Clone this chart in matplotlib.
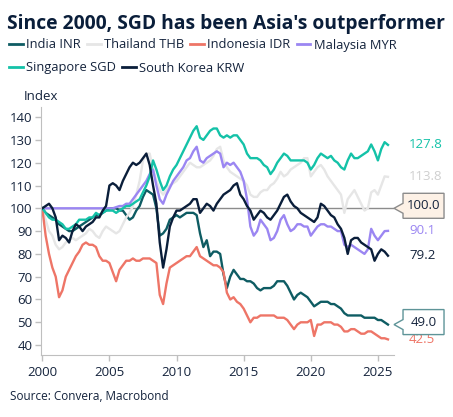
import numpy as np
import matplotlib
matplotlib.use("Agg")
import matplotlib.pyplot as plt
import matplotlib.transforms as mtransforms
from matplotlib.patches import Polygon
from matplotlib.lines import Line2D

plt.rcParams['font.family'] = ['Open Sans', 'DejaVu Sans']

# quarterly index, 2000 = 100
years = np.arange(2000, 2026, 0.25)

inr = [100, 98, 97, 96, 95, 93, 92, 91, 90, 90, 91, 92, 93, 94, 95, 96,
       97, 97, 98, 99, 100, 100, 100, 99, 99, 97, 95, 96, 99, 101, 105, 108,
       107, 106, 100, 88, 89, 91, 95, 96, 97, 96, 97, 98, 98, 98, 97, 89,
       83, 86, 79, 81, 81, 80, 71, 65, 70, 73, 71, 69, 69, 68, 68, 67,
       65, 64, 65, 65, 65, 66, 68, 68, 68, 66, 63, 60, 62, 63, 62, 61,
       59, 57, 58, 59, 59, 59, 58, 58, 57, 56, 54, 53, 53, 53, 53, 53,
       52, 52, 52, 52, 51, 51, 50, 49.0]
thb = [100, 95, 90, 88, 84, 82, 83, 85, 86, 87, 86, 87, 88, 89, 91, 90,
       88, 87, 90, 92, 91, 90, 89, 90, 93, 96, 98, 101, 106, 112, 121, 124,
       124, 117, 112, 108, 106, 108, 110, 111, 112, 114, 116, 118, 120, 119, 118, 118,
       119, 120, 121, 123, 126, 127, 121, 118, 116, 115, 114, 113, 112, 110, 106, 105,
       105, 107, 108, 108, 110, 111, 113, 116, 114, 115, 117, 118, 119, 120, 122, 122,
       114, 116, 118, 119, 117, 114, 112, 110, 108, 106, 98, 104, 106, 108, 105, 102,
       99, 100, 107, 108, 106, 110, 114, 113.8]
idr = [100, 88, 80, 74, 70, 61, 64, 70, 73, 76, 79, 81, 84, 85, 84, 84,
       83, 79, 77, 77, 76, 72, 68, 73, 75, 77, 77, 78, 77, 77, 78, 78,
       78, 77, 76, 62, 58, 67, 74, 75, 76, 77, 78, 79, 79, 81, 83, 79,
       78, 77, 76, 75, 75, 74, 72, 63, 60, 61, 59, 58, 56, 53, 50, 52,
       52, 53, 53, 53, 53, 53, 52, 52, 52, 51, 49, 47, 49, 50, 50, 50,
       51, 44, 49, 49, 50, 50, 50, 49, 49, 48, 46, 46, 47, 47, 46, 45,
       45, 46, 46, 45, 44, 43, 43, 42.5]
myr = [100, 100, 100, 100, 100, 100, 100, 100, 100, 100, 100, 100, 100, 100, 100, 100,
       100, 100, 100, 100, 100, 100, 100.5, 101, 101, 102, 102, 104, 106, 108, 110, 112,
       115, 117, 110, 104, 102, 106, 109, 112, 114, 116, 118, 121, 122, 125, 127, 121,
       120, 122, 123, 124, 125, 124, 118, 120, 119, 120, 118, 116, 112, 104, 92, 88,
       90, 95, 93, 91, 86, 87, 90, 95, 97, 93, 90, 91, 93, 93, 92, 92,
       88, 90, 92, 93, 93, 92, 92, 91, 90, 90, 84, 83, 84, 83, 82, 81,
       80, 82, 91, 88, 86, 88, 90, 90.1]
sgd = [100, 98, 96, 95, 95, 94, 93, 91, 91, 92, 93, 95, 95, 95, 96, 96,
       98, 97, 98, 99, 99, 99, 98, 99, 100, 101, 101, 102, 103, 104, 107, 110,
       114, 121, 117, 112, 108, 110, 114, 117, 119, 122, 125, 128, 131, 134, 136, 131,
       130, 132, 134, 135, 135, 132, 131, 132, 131, 132, 132, 130, 128, 124, 122, 122,
       122, 121, 119, 118, 115, 117, 120, 122, 124, 123, 121, 121, 121, 121, 121, 120,
       117, 119, 122, 124, 123, 122, 123, 121, 120, 118, 117, 121, 124, 122, 122, 123,
       124, 125, 128, 125, 121, 126, 129, 127.8]
krw = [100, 101, 102, 100, 96, 86, 88, 87, 85, 90, 93, 92, 90, 92, 93, 94,
       96, 96, 99, 101, 110, 111, 110, 108, 112, 115, 118, 120, 119, 120, 122, 124,
       119, 110, 102, 85, 74, 82, 92, 96, 99, 99, 100, 101, 102, 104, 104, 98,
       100, 102, 101, 99, 102, 104, 106, 107, 108, 110, 111, 106, 104, 101, 99, 95,
       97, 99, 98, 96, 95, 97, 99, 102, 105, 106, 103, 101, 100, 98, 97, 96,
       95, 94, 96, 102, 101, 99, 97, 96, 93, 91, 87, 80, 86, 87, 87, 85,
       84, 83, 82, 77, 80, 82, 81, 79.2]

names = ["India INR", "Thailand THB", "Indonesia IDR", "Malaysia MYR",
         "Singapore SGD", "South Korea KRW"]
series = [inr, thb, idr, myr, sgd, krw]
colors = ["#0E5C63", "#E6E6E6", "#EE7567", "#9B86F2", "#14C2A8", "#0A1E3A"]
label_colors = ["#14233C", "#CFCFCF", "#EE7567", "#9B86F2", "#14C2A8", "#14233C"]

navy = "#14233C"
grey = "#BFBFBF"

fig = plt.figure(figsize=(4.53, 4.17), dpi=100)
ax = fig.add_axes([0.0898, 0.1487, 0.780, 0.5947])

ax.axhline(100, color="#8C8C8C", lw=1.0, zorder=1)
for vals, c in zip(series, colors):
    ax.plot(years, vals, color=c, lw=1.7, zorder=2)

ax.set_xlim(1999.88, 2026.2)
ax.set_ylim(35.66, 144.43)
ax.set_yticks(range(40, 141, 10))
ax.set_xticks(range(2000, 2026, 5))

for side in ["top", "right"]:
    ax.spines[side].set_visible(False)
for side in ["left", "bottom"]:
    ax.spines[side].set_color(grey)
ax.tick_params(axis="both", colors=grey, labelcolor=navy, labelsize=9.5,
               length=4, width=1)
ax.tick_params(axis="y", pad=2)
ax.tick_params(axis="x", pad=4)

# right-hand end labels
lab_trans = mtransforms.blended_transform_factory(fig.transFigure, ax.transData)
for i in [1, 2, 3, 4, 5]:
    ax.text(409 / 453, series[i][-1], f"{series[i][-1]:.1f}", transform=lab_trans,
            ha="left", va="center", color=label_colors[i], fontsize=9.5)

# callout boxes at the right edge
def callout(value, text, face, edge):
    anchor = mtransforms.blended_transform_factory(ax.transAxes, ax.transData)
    trans = (mtransforms.Affine2D().scale(fig.dpi / 72.0)
             + mtransforms.ScaledTranslation(1.0, value, anchor))
    k = 72.0 / fig.dpi
    pts = np.array([(0, 0), (9, -5), (9, -10), (50, -10), (50, 15),
                    (9, 15), (9, 5)]) * k
    poly = Polygon(pts, closed=True, facecolor=face, edgecolor=edge, lw=1.0,
                   transform=trans, clip_on=False, zorder=5)
    ax.add_patch(poly)
    ax.text(29.5 * k, 2.5 * k, text, transform=trans, ha="center", va="center",
            color=navy, fontsize=9.5, zorder=6, clip_on=False)

callout(100, "100.0", "#FDF1E6", "#8C8C8C")
callout(inr[-1], f"{inr[-1]:.1f}", "white", "#5E9498")

# title, legend and notes
fig.text(7 / 453, 1 - 29.5 / 417, "Since 2000, SGD has been Asia's outperformer",
         fontsize=13.9, fontweight="bold", color="#0A1E3A", va="baseline")

handles = [Line2D([], [], color=c, lw=2) for c in colors]
leg_kw = dict(frameon=False, fontsize=9.3, handlelength=1.05, handletextpad=0.25,
              columnspacing=0.5, borderpad=0, borderaxespad=0, labelcolor=navy,
              loc="center left")
fig.legend(handles[:4], names[:4], ncol=4, bbox_to_anchor=(9 / 453, 1 - 45 / 417),
           **leg_kw)
fig.legend(handles[4:], names[4:], ncol=2, bbox_to_anchor=(9 / 453, 1 - 68 / 417),
           **leg_kw)

fig.text(24 / 453, 1 - 97 / 417, "Index", fontsize=9.5, color=navy, va="center")
fig.text(10 / 453, 1 - 397 / 417, "Source: Convera, Macrobond", fontsize=8.5,
         color=navy, va="center")

fig.savefig("out.png", dpi=100)
